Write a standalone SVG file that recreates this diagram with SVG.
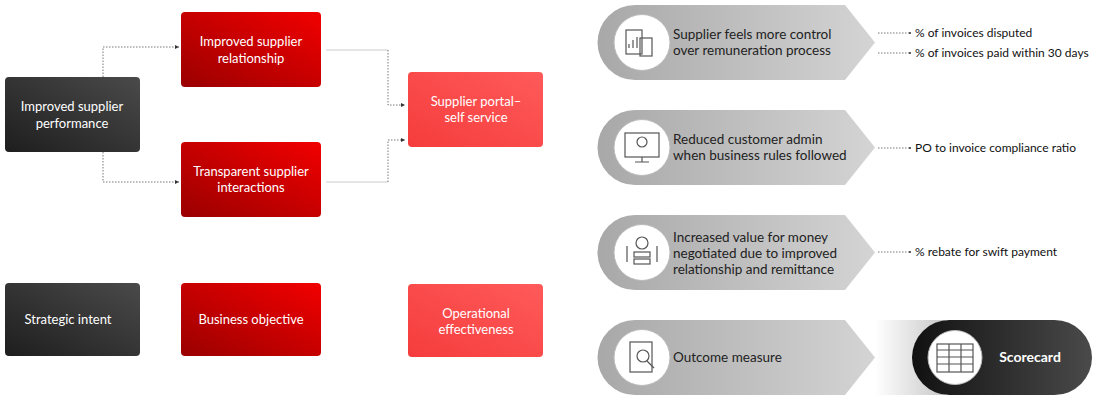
<svg xmlns="http://www.w3.org/2000/svg" width="1100" height="400" viewBox="0 0 1100 400">
<defs>
<linearGradient id="dk" x1="0" y1="1" x2="1" y2="0"><stop offset="0" stop-color="#1e1e1e"/><stop offset="1" stop-color="#4a4a4a"/></linearGradient>
<linearGradient id="rd" x1="0" y1="1" x2="1" y2="0"><stop offset="0" stop-color="#9a0000"/><stop offset="1" stop-color="#f20000"/></linearGradient>
<linearGradient id="lr" x1="0" y1="1" x2="1" y2="0"><stop offset="0" stop-color="#f53c3c"/><stop offset="1" stop-color="#ff5a5a"/></linearGradient>
<linearGradient id="gr" x1="0" y1="0" x2="1" y2="0"><stop offset="0" stop-color="#a8a8a8"/><stop offset="1" stop-color="#d4d4d4"/></linearGradient>
<linearGradient id="fade" x1="0" y1="0" x2="1" y2="0"><stop offset="0" stop-color="#fff"/><stop offset="1" stop-color="#c8c8c8"/></linearGradient>
<linearGradient id="sc" x1="0" y1="0" x2="1" y2="0"><stop offset="0" stop-color="#111"/><stop offset="1" stop-color="#4a4a4a"/></linearGradient>
<marker id="ah" markerWidth="6" markerHeight="6" refX="5" refY="3" orient="auto"><path d="M0,0.5 L5,3 L0,5.5z" fill="#333"/></marker>
<marker id="dot" markerWidth="4" markerHeight="4" refX="2" refY="2"><circle cx="2" cy="2" r="1.3" fill="#333"/></marker>
</defs>
<style>
text{font-family:"Lato","Liberation Sans",sans-serif;}
.w{fill:#fff;font-size:13px;text-anchor:middle;}
.b{fill:#222;font-size:13.5px;}
.m{fill:#111;font-size:12px;}
.dl{fill:none;stroke:#555;stroke-width:0.8;stroke-dasharray:1.5 1.5;}
.sl{fill:none;stroke:#ccc;stroke-width:1;}
.ic{fill:#fff;stroke:#bbb;stroke-width:1;}
.ig{fill:none;stroke:#555;stroke-width:1.2;}
</style>
<g id="connectors">
<path class="dl" d="M103,77 V47 H179" marker-end="url(#ah)"/>
<path class="dl" d="M103,152 V182 H179" marker-end="url(#ah)"/>
<path class="sl" d="M326,50 H388"/>
<path class="dl" d="M388,50 V105 H405" marker-end="url(#ah)"/>
<path class="sl" d="M326,182 H388"/>
<path class="dl" d="M388,182 V140 H405" marker-end="url(#ah)"/>
<path class="dl" d="M878,33 H910" marker-end="url(#dot)"/>
<path class="dl" d="M878,53 H910" marker-end="url(#dot)"/>
<path class="dl" d="M878,148 H910" marker-end="url(#dot)"/>
<path class="dl" d="M878,252 H910" marker-end="url(#dot)"/>
</g>
<g id="n-perf"><rect x="5" y="77" width="135" height="75" rx="4" fill="url(#dk)"/><text class="w" x="72" y="111">Improved supplier</text><text class="w" x="72" y="128">performance</text></g>
<g id="n-rel"><rect x="181" y="12" width="140" height="75" rx="4" fill="url(#rd)"/><text class="w" x="251" y="46">Improved supplier</text><text class="w" x="251" y="63">relationship</text></g>
<g id="n-tr"><rect x="181" y="142" width="140" height="75" rx="4" fill="url(#rd)"/><text class="w" x="251" y="176">Transparent supplier</text><text class="w" x="251" y="192">interactions</text></g>
<g id="n-portal"><rect x="408" y="72" width="135" height="75" rx="4" fill="url(#lr)"/><text class="w" x="476" y="106">Supplier portal–</text><text class="w" x="476" y="122">self service</text></g>
<g id="l-strat"><rect x="5" y="283" width="135" height="73" rx="4" fill="url(#dk)"/><text class="w" x="68" y="324">Strategic intent</text></g>
<g id="l-bus"><rect x="181" y="283" width="140" height="73" rx="4" fill="url(#rd)"/><text class="w" x="251" y="324">Business objective</text></g>
<g id="l-op"><rect x="408" y="284" width="135" height="73" rx="4" fill="url(#lr)"/><text class="w" x="476" y="318">Operational</text><text class="w" x="476" y="334">effectiveness</text></g>

<g id="o1"><path d="M635,5 H845 L875,42.5 L845,80 H635 A37.5,37.5 0 0 1 635,5z" fill="url(#gr)"/>
<circle class="ic" cx="642" cy="42.5" r="28"/><rect class="ig" x="626" y="30" width="16" height="24"/><rect class="ig" x="640" y="38" width="12" height="18"/><path class="ig" d="M629,48 V44 M633,48 V40 M637,48 V37"/>
<text class="b" x="673" y="39">Supplier feels more control</text><text class="b" x="673" y="55">over remuneration process</text></g>
<g id="o2"><path d="M635,110 H845 L875,147.5 L845,185 H635 A37.5,37.5 0 0 1 635,110z" fill="url(#gr)"/>
<circle class="ic" cx="642" cy="147.5" r="28"/><rect class="ig" x="625" y="133" width="34" height="24"/><circle class="ig" cx="642" cy="142" r="5"/><path class="ig" d="M642,157 V162 M635,162 H649"/>
<text class="b" x="673" y="144">Reduced customer admin</text><text class="b" x="673" y="160">when business rules followed</text></g>
<g id="o3"><path d="M635,215 H845 L875,252.5 L845,290 H635 A37.5,37.5 0 0 1 635,215z" fill="url(#gr)"/>
<circle class="ic" cx="642" cy="252.5" r="28"/><circle class="ig" cx="642" cy="243" r="6"/><rect class="ig" x="634" y="252" width="16" height="5"/><rect class="ig" x="634" y="259" width="16" height="5"/><path class="ig" d="M627,262 V246 M657,262 V246"/>
<text class="b" x="673" y="242">Increased value for money</text><text class="b" x="673" y="258">negotiated due to improved</text><text class="b" x="673" y="274">relationship and remittance</text></g>
<g id="o4"><rect x="875" y="320" width="70" height="75" fill="url(#fade)"/><path d="M635,320 H845 L875,357.5 L845,395 H635 A37.5,37.5 0 0 1 635,320z" fill="url(#gr)"/>
<circle class="ic" cx="642" cy="357.5" r="28"/><rect class="ig" x="630" y="342" width="22" height="30"/><circle class="ig" cx="643" cy="356" r="6"/><path class="ig" d="M647,361 L654,368"/>
<text class="b" x="673" y="362">Outcome measure</text></g>
<g id="scorecard"><rect x="912" y="320" width="180" height="75" rx="37.5" fill="url(#sc)"/>
<circle class="ic" cx="955" cy="357.5" r="27"/><rect class="ig" x="937" y="344" width="36" height="28"/><path class="ig" d="M937,350 H973 M949,344 V372 M961,344 V372 M937,357 H973 M937,364 H973"/>
<text x="1030" y="362" fill="#fff" font-size="14" font-weight="bold" text-anchor="middle">Scorecard</text></g>
<g id="metrics">
<text class="m" x="915" y="37">% of invoices disputed</text>
<text class="m" x="915" y="57">% of invoices paid within 30 days</text>
<text class="m" x="915" y="152">PO to invoice compliance ratio</text>
<text class="m" x="915" y="256">% rebate for swift payment</text>
</g>
</svg>
